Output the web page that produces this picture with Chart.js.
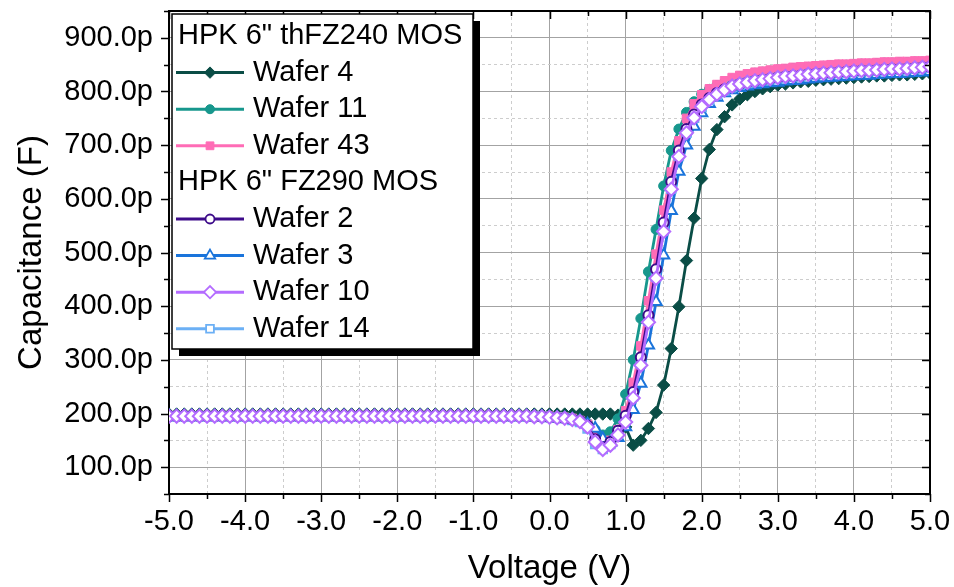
<!DOCTYPE html>
<html>
<head>
<meta charset="utf-8">
<title>C-V MOS</title>
<script src="https://cdn.jsdelivr.net/npm/chart.js@4.4.1/dist/chart.umd.min.js"></script>
<style>
  html, body { margin: 0; padding: 0; background: #fff; }
  #grafico { display: block; }
</style>
</head>
<body>
<canvas id="grafico" width="954" height="587"></canvas>
<script>
// tensao (V)
var volts = [
  -5.0, -4.9, -4.8, -4.7, -4.6, -4.5, -4.4, -4.3, -4.2, -4.1,
  -4.0, -3.9, -3.8, -3.7, -3.6, -3.5, -3.4, -3.3, -3.2, -3.1,
  -3.0, -2.9, -2.8, -2.7, -2.6, -2.5, -2.4, -2.3, -2.2, -2.1,
  -2.0, -1.9, -1.8, -1.7, -1.6, -1.5, -1.4, -1.3, -1.2, -1.1,
  -1.0, -0.9, -0.8, -0.7, -0.6, -0.5, -0.4, -0.3, -0.2, -0.1,
  0.0, 0.1, 0.2, 0.3, 0.4, 0.5, 0.6, 0.7, 0.8, 0.9,
  1.0, 1.1, 1.2, 1.3, 1.4, 1.5, 1.6, 1.7, 1.8, 1.9,
  2.0, 2.1, 2.2, 2.3, 2.4, 2.5, 2.6, 2.7, 2.8, 2.9,
  3.0, 3.1, 3.2, 3.3, 3.4, 3.5, 3.6, 3.7, 3.8, 3.9,
  4.0, 4.1, 4.2, 4.3, 4.4, 4.5, 4.6, 4.7, 4.8, 4.9,
  5.0
]

// capacitancia em pF - HPK 6" thFZ240
var wafer4 = [
  199, 199, 199, 199, 199, 199, 199, 199, 199, 199,
  199, 199, 199, 199, 199, 199, 199, 199, 199, 199,
  199, 199, 199, 199, 199, 199, 199, 199, 199, 199,
  199, 199, 199, 199, 199, 199, 199, 199, 199, 199,
  199, 199, 199, 199, 199, 199, 199, 199, 199, 199,
  199, 199, 199, 199, 199, 199, 199, 199, 199, 197,
  175, 141, 150, 172, 202, 253, 321, 399, 485, 564,
  638, 692, 729, 753, 775, 786, 794, 800, 805, 809,
  812, 814, 816, 818, 819, 821, 822, 823, 824, 825,
  826, 827, 828, 829, 829, 830, 831, 831, 832, 833,
  834
]
var wafer11 = [
  196, 196, 196, 196, 196, 196, 196, 196, 196, 196,
  196, 196, 196, 196, 196, 196, 196, 196, 196, 196,
  196, 196, 196, 196, 196, 196, 196, 196, 196, 196,
  196, 196, 196, 196, 196, 196, 196, 196, 196, 196,
  196, 196, 196, 196, 196, 196, 196, 196, 196, 195,
  195, 194, 193, 191, 188, 182, 170, 160, 166, 190,
  236, 300, 377, 464, 543, 624, 690, 730, 761, 781,
  795, 804, 811, 817, 823, 828, 831, 834, 836, 838,
  840, 841, 843, 844, 845, 846, 847, 848, 849, 849,
  850, 851, 851, 852, 853, 853, 854, 854, 855, 855,
  856
]
var wafer43 = [
  196, 196, 196, 196, 196, 196, 196, 196, 196, 196,
  196, 196, 196, 196, 196, 196, 196, 196, 196, 196,
  196, 196, 196, 196, 196, 196, 196, 196, 196, 196,
  196, 196, 196, 196, 196, 196, 196, 196, 196, 196,
  196, 196, 196, 196, 196, 196, 196, 196, 196, 195,
  195, 194, 193, 191, 187, 180, 162, 146, 150, 170,
  205, 258, 326, 410, 497, 579, 650, 708, 750, 777,
  794, 805, 813, 820, 826, 830, 833, 836, 838, 840,
  842, 843, 845, 846, 847, 848, 849, 850, 851, 851,
  852, 853, 853, 854, 855, 855, 856, 856, 857, 857,
  858
]

// HPK 6" FZ290
var wafer2 = [
  195, 195, 195, 195, 195, 195, 195, 195, 195, 195,
  195, 195, 195, 195, 195, 195, 195, 195, 195, 195,
  195, 195, 195, 195, 195, 195, 195, 195, 195, 195,
  195, 195, 195, 195, 195, 195, 195, 195, 195, 195,
  195, 195, 195, 195, 195, 195, 195, 195, 194, 194,
  193, 192, 191, 189, 186, 177, 152, 137, 147, 168,
  196, 240, 305, 383, 469, 556, 632, 690, 730, 757,
  776, 788, 797, 804, 810, 814, 817, 820, 822, 824,
  826, 828, 829, 830, 832, 833, 834, 835, 836, 837,
  838, 839, 839, 840, 841, 842, 842, 843, 844, 845,
  846
]
var wafer3 = [
  195, 195, 195, 195, 195, 195, 195, 195, 195, 195,
  195, 195, 195, 195, 195, 195, 195, 195, 195, 195,
  195, 195, 195, 195, 195, 195, 195, 195, 195, 195,
  195, 195, 195, 195, 195, 195, 195, 195, 195, 195,
  195, 195, 195, 195, 195, 195, 195, 195, 194, 194,
  193, 192, 191, 189, 186, 180, 172, 153, 146, 155,
  175, 207, 256, 327, 408, 495, 578, 651, 700, 735,
  760, 777, 789, 797, 803, 807, 810, 812, 814, 816,
  817, 819, 820, 821, 823, 824, 825, 826, 827, 828,
  829, 830, 830, 831, 832, 833, 833, 834, 835, 836,
  837
]
var wafer10 = [
  195, 195, 195, 195, 195, 195, 195, 195, 195, 195,
  195, 195, 195, 195, 195, 195, 195, 195, 195, 195,
  195, 195, 195, 195, 195, 195, 195, 195, 195, 195,
  195, 195, 195, 195, 195, 195, 195, 195, 195, 195,
  195, 195, 195, 195, 195, 195, 195, 195, 194, 194,
  193, 192, 191, 189, 185, 175, 147, 133, 141, 160,
  184, 229, 290, 370, 452, 539, 618, 679, 723, 751,
  772, 785, 795, 803, 810, 814, 817, 820, 822, 824,
  826, 828, 829, 830, 832, 833, 834, 835, 836, 837,
  838, 839, 839, 840, 841, 842, 842, 843, 844, 845,
  846
]
var wafer14 = [
  195, 195, 195, 195, 195, 195, 195, 195, 195, 195,
  195, 195, 195, 195, 195, 195, 195, 195, 195, 195,
  195, 195, 195, 195, 195, 195, 195, 195, 195, 195,
  195, 195, 195, 195, 195, 195, 195, 195, 195, 195,
  195, 195, 195, 195, 195, 195, 195, 195, 194, 194,
  193, 192, 191, 188, 184, 172, 143, 134, 143, 162,
  187, 232, 293, 373, 455, 541, 619, 680, 723, 751,
  771, 784, 794, 802, 809, 813, 816, 819, 821, 823,
  825, 827, 828, 829, 831, 832, 833, 834, 835, 836,
  837, 838, 838, 839, 840, 841, 841, 842, 843, 844,
  845
]

var xTickLabels = ['-5.0', '-4.0', '-3.0', '-2.0', '-1.0', '0.0', '1.0', '2.0', '3.0', '4.0', '5.0']
var yTickLabels = ['100.0p', '200.0p', '300.0p', '400.0p', '500.0p', '600.0p', '700.0p', '800.0p', '900.0p']
var grupos = ['HPK 6" thFZ240 MOS', 'HPK 6" FZ290 MOS']
var nomes = ['Wafer 4', 'Wafer 11', 'Wafer 43', 'Wafer 2', 'Wafer 3', 'Wafer 10', 'Wafer 14']
var valores = [wafer4, wafer11, wafer43, wafer2, wafer3, wafer10, wafer14]

// cor, marcador e ordem de desenho (0 = por cima)
var estilos = [
  { cor: '#0a4d46', ponto: 'rectRot', raio: 6.2, cheio: true, ordem: 6 },
  { cor: '#17978d', ponto: 'circle', raio: 5, cheio: true, ordem: 5 },
  { cor: '#ff6cb6', ponto: 'rect', raio: 6, cheio: true, ordem: 4 },
  { cor: '#3d0b8a', ponto: 'circle', raio: 5, cheio: false, ordem: 1 },
  { cor: '#1a74db', ponto: 'triangle', raio: 6.5, cheio: false, ordem: 3 },
  { cor: '#b46cff', ponto: 'rectRot', raio: 6.6, cheio: false, ordem: 0 },
  { cor: '#6cb0f5', ponto: 'rect', raio: 6, cheio: false, ordem: 2 }
]

var fonte = '"Liberation Sans", Arial, sans-serif'
Chart.defaults.font.family = fonte
Chart.defaults.color = '#000'

function inteiro(valor, passo) {
  return Math.abs(valor / passo - Math.round(valor / passo)) < 1e-6
}

var datasets = valores.map(function (serie, i) {
  var e = estilos[i]
  return {
    label: nomes[i],
    data: volts.map(function (v, k) { return { x: v, y: serie[k] } }),
    borderColor: e.cor,
    backgroundColor: e.cheio ? e.cor : '#ffffff',
    borderWidth: 2.8,
    pointStyle: e.ponto,
    pointRadius: e.raio,
    pointBorderWidth: e.cheio ? 1 : 2,
    pointBorderColor: e.cor,
    pointBackgroundColor: e.cheio ? e.cor : '#ffffff',
    order: e.ordem
  }
})

// eixos de cima e da direita + tracinhos de todos os eixos
var eixosExtras = {
  id: 'eixosExtras',
  afterDatasetsDraw: function (chart) {
    var a = chart.chartArea
    var ctx = chart.ctx
    var sx = chart.scales.x
    var sy = chart.scales.y
    ctx.save()
    ctx.strokeStyle = '#000'
    ctx.lineWidth = 2
    ctx.beginPath()
    ctx.moveTo(a.left, a.top)
    ctx.lineTo(a.right, a.top)
    ctx.lineTo(a.right, a.bottom)
    ctx.stroke()

    ctx.lineWidth = 1.5
    ctx.beginPath()
    sx.ticks.forEach(function (t) {
      var px = Math.round(sx.getPixelForValue(t.value)) + 0.5
      var tam = inteiro(t.value, 1) ? 8 : 5
      ctx.moveTo(px, a.bottom)
      ctx.lineTo(px, a.bottom + tam)
      ctx.moveTo(px, a.top)
      ctx.lineTo(px, a.top + tam)
    })
    sy.ticks.forEach(function (t) {
      var py = Math.round(sy.getPixelForValue(t.value)) + 0.5
      var tam = inteiro(t.value, 100) ? 8 : 5
      ctx.moveTo(a.left, py)
      ctx.lineTo(a.left - tam, py)
      ctx.moveTo(a.right, py)
      ctx.lineTo(a.right - tam, py)
    })
    ctx.stroke()
    ctx.restore()
  }
}

var legendaCaixa = {
  id: 'legendaCaixa',
  afterDraw: function (chart) {
    var ctx = chart.ctx
    var x0 = 172, y0 = 14, w = 301, h = 335
    ctx.save()
    ctx.fillStyle = '#000'
    ctx.fillRect(x0 + 7, y0 + 7, w, h)
    ctx.fillStyle = '#fff'
    ctx.fillRect(x0, y0, w, h)
    ctx.strokeStyle = '#000'
    ctx.lineWidth = 1.5
    ctx.strokeRect(x0, y0, w, h)

    ctx.font = '29px ' + fonte
    ctx.textBaseline = 'middle'
    ctx.textAlign = 'left'

    var linha = 0
    var passo = 36.6
    for (var g = 0; g < 2; g++) {
      var yg = y0 + 22 + linha * passo
      ctx.fillStyle = '#000'
      ctx.fillText(grupos[g], x0 + 6, yg)
      linha++
      var ini = g == 0 ? 0 : 3
      var fim = g == 0 ? 3 : 7
      for (var i = ini; i < fim; i++) {
        var e = estilos[i]
        var yy = y0 + 22 + linha * passo
        ctx.strokeStyle = e.cor
        ctx.lineWidth = 3
        ctx.beginPath()
        ctx.moveTo(x0 + 4, yy)
        ctx.lineTo(x0 + 72, yy)
        ctx.stroke()
        ctx.fillStyle = e.cheio ? e.cor : '#fff'
        ctx.lineWidth = e.cheio ? 1 : 1.8
        Chart.helpers.drawPoint(ctx, { pointStyle: e.ponto, radius: e.raio - 0.5, rotation: 0, borderWidth: ctx.lineWidth }, x0 + 38, yy)
        ctx.fillStyle = '#000'
        ctx.fillText(nomes[i], x0 + 81, yy)
        linha++
      }
    }
    ctx.restore()
  }
}

new Chart(document.getElementById('grafico'), {
  type: 'line',
  data: { datasets: datasets },
  plugins: [eixosExtras, legendaCaixa],
  options: {
    responsive: false,
    animation: false,
    layout: { padding: { top: 11, right: 24, left: 0, bottom: 0 } },
    plugins: { legend: { display: false }, tooltip: { enabled: false } },
    scales: {
      x: {
        type: 'linear',
        min: -5,
        max: 5,
        afterFit: function (s) { s.height = 93; s.paddingLeft = 0; s.paddingRight = 0 },
        ticks: {
          stepSize: 0.5,
          autoSkip: false,
          maxRotation: 0,
          padding: 3,
          font: { size: 29 },
          color: '#000',
          callback: function (v) { return inteiro(v, 1) ? xTickLabels[Math.round(v) + 5] : '' }
        },
        grid: {
          color: function (c) { return c.tick && inteiro(c.tick.value, 1) ? '#a3a3a3' : '#cdcdcd' },
          lineWidth: 1,
          tickLength: 8,
          tickColor: 'rgba(0,0,0,0)'
        },
        border: {
          color: '#000',
          width: 2,
          dash: function (c) { return c.tick && !inteiro(c.tick.value, 1) ? [3, 3] : [] }
        },
        title: {
          display: true,
          text: 'Voltage (V)',
          font: { size: 33, lineHeight: 1 },
          padding: { top: 0, bottom: 2 }
        }
      },
      y: {
        type: 'linear',
        min: 50,
        max: 950,
        afterFit: function (s) { s.width = 169; s.paddingTop = 0; s.paddingBottom = 0 },
        ticks: {
          stepSize: 50,
          autoSkip: false,
          padding: 8,
          font: { size: 29 },
          color: '#000',
          callback: function (v) {
            if (!inteiro(v, 100) || v < 100 || v > 900) return ''
            return yTickLabels[Math.round(v / 100) - 1]
          }
        },
        grid: {
          color: function (c) { return c.tick && inteiro(c.tick.value, 100) ? '#a3a3a3' : '#cdcdcd' },
          lineWidth: 1,
          tickLength: 8,
          tickColor: 'rgba(0,0,0,0)'
        },
        border: {
          color: '#000',
          width: 2,
          dash: function (c) { return c.tick && !inteiro(c.tick.value, 100) ? [3, 3] : [] }
        },
        title: {
          display: true,
          text: 'Capacitance (F)',
          font: { size: 33, lineHeight: 1 },
          padding: { top: 15, bottom: 0 }
        }
      }
    }
  }
})
</script>
</body>
</html>
